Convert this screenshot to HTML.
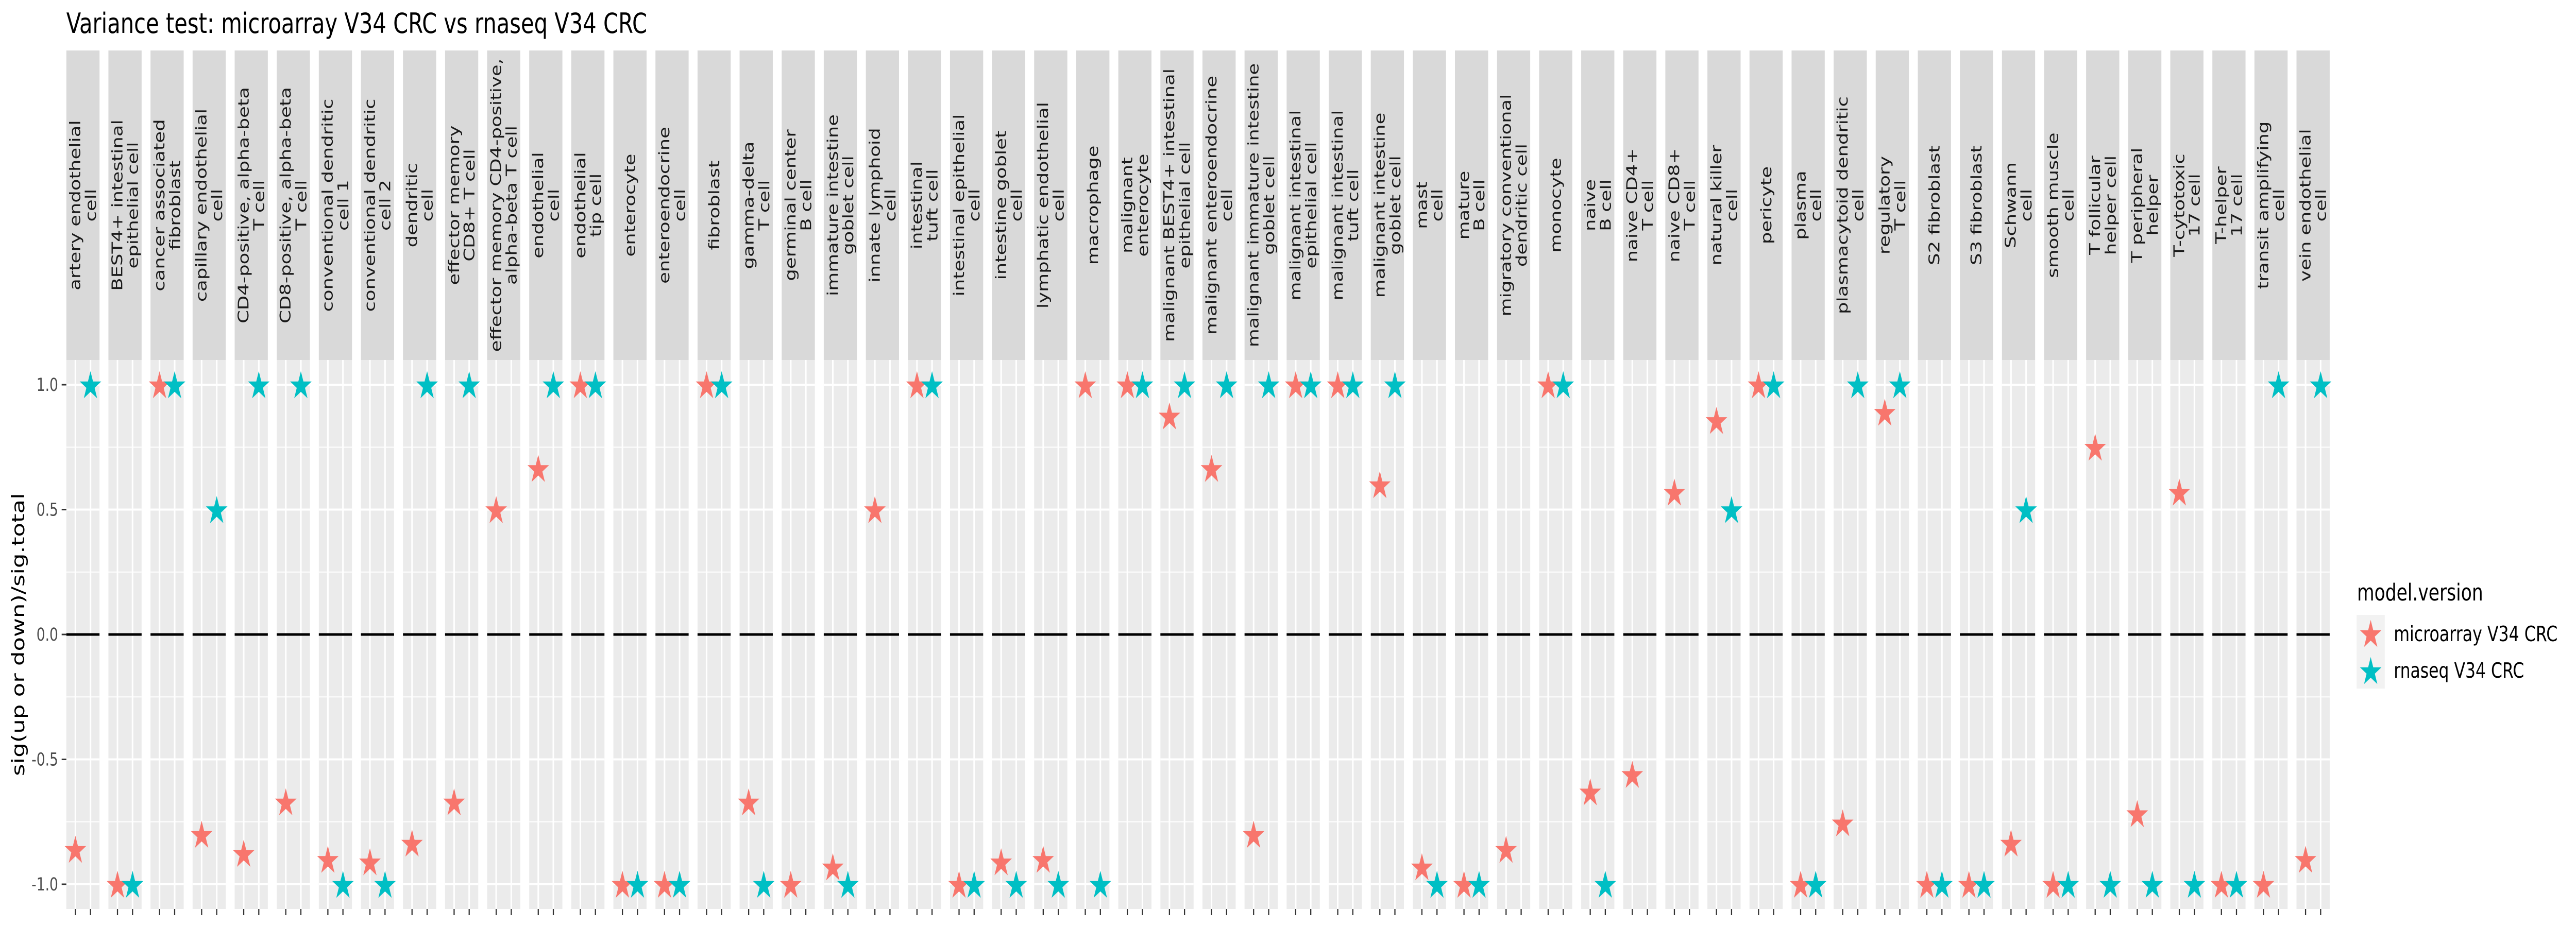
<!DOCTYPE html>
<html><head><meta charset="utf-8">
<style>
html,body{margin:0;padding:0;background:#fff;width:6600px;height:1800px;overflow:hidden;}
svg{display:block;position:absolute;left:0;top:0;width:100vw;height:100vh;font-family:"DejaVu Sans","Liberation Sans",sans-serif;}
</style></head>
<body>
<svg id="chart" viewBox="0 0 6600 1800" preserveAspectRatio="none" xmlns="http://www.w3.org/2000/svg">
<text x="170" y="64" font-size="54" fill="#000" textLength="1488" lengthAdjust="spacingAndGlyphs">Variance test: microarray V34 CRC vs rnaseq V34 CRC</text>
<text transform="translate(62,1232) rotate(-90)" text-anchor="middle" font-size="45" fill="#000">sig(up or down)/sig.total</text>
<g id="panels"></g>
<g id="yaxis"></g>
<g>
<text x="6039" y="1166" font-size="45" fill="#000" textLength="323" lengthAdjust="spacingAndGlyphs">model.version</text>
<rect x="6038" y="1194" width="72" height="143" fill="#F2F2F2"/>
<g id="legendkeys"></g>
<text x="6133" y="1245" font-size="41" fill="#000" textLength="420" lengthAdjust="spacingAndGlyphs">microarray V34 CRC</text>
<text x="6133" y="1316" font-size="41" fill="#000" textLength="334" lengthAdjust="spacingAndGlyphs">rnaseq V34 CRC</text>
</g>
</svg>
<script>
const categories = ["artery endothelial|cell","BEST4+ intestinal|epithelial cell","cancer associated|fibroblast","capillary endothelial|cell","CD4-positive, alpha-beta|T cell","CD8-positive, alpha-beta|T cell","conventional dendritic|cell 1","conventional dendritic|cell 2","dendritic|cell","effector memory|CD8+ T cell","effector memory CD4-positive,|alpha-beta T cell","endothelial|cell","endothelial|tip cell","enterocyte","enteroendocrine|cell","fibroblast","gamma-delta|T cell","germinal center|B cell","immature intestine|goblet cell","innate lymphoid|cell","intestinal|tuft cell","intestinal epithelial|cell","intestine goblet|cell","lymphatic endothelial|cell","macrophage","malignant|enterocyte","malignant BEST4+ intestinal|epithelial cell","malignant enteroendocrine|cell","malignant immature intestine|goblet cell","malignant intestinal|epithelial cell","malignant intestinal|tuft cell","malignant intestine|goblet cell","mast|cell","mature|B cell","migratory conventional|dendritic cell","monocyte","naive|B cell","naive CD4+|T cell","naive CD8+|T cell","natural killer|cell","pericyte","plasma|cell","plasmacytoid dendritic|cell","regulatory|T cell","S2 fibroblast","S3 fibroblast","Schwann|cell","smooth muscle|cell","T follicular|helper cell","T peripheral|helper","T-cytotoxic|17 cell","T-helper|17 cell","transit amplifying|cell","vein endothelial|cell"];
const microarray = [-0.86,-1,1,-0.80,-0.876,-0.67,-0.90,-0.91,-0.835,-0.67,0.5,0.665,1,-1,-1,1,-0.67,-1,-0.93,0.5,1,-1,-0.91,-0.90,1,1,0.875,0.665,-0.80,1,1,0.60,-0.93,-1,-0.86,1,-0.63,-0.56,0.57,0.857,1,-1,-0.754,0.89,-1,-1,-0.835,-1,0.75,-0.717,0.57,-1,-1,-0.90];
const rnaseq = [1,-1,1,0.5,1,1,-1,-1,1,1,null,1,1,-1,-1,1,-1,null,-1,null,1,-1,-1,-1,-1,1,1,1,1,1,1,1,-1,-1,null,1,-1,null,null,0.5,1,-1,1,1,-1,-1,0.5,-1,-1,-1,-1,-1,1,1];
const yTicks = [-1,-0.5,0,0.5,1];
const yTickLabels = ["-1.0","-0.5","0.0","0.5","1.0"];
const yMinor = [-0.75,-0.25,0.25,0.75];

const NS="http://www.w3.org/2000/svg";
const P0=170, PITCH=107.81, PW=85, PTOP=699, PBOT=1765, STOP=98;
const RED="#F8766D", TEAL="#00BFC4";
function yScale(v){return 1232 - v*485;}
function xScale(panel, series){return P0 + panel*PITCH + (series===0 ? 0.6 : 1.6)/2.2*PW;}
function mk(tag, attrs, parent){const e=document.createElementNS(NS,tag);for(const k in attrs)e.setAttribute(k,attrs[k]);parent.appendChild(e);return e;}
function starPts(cx,cy,R){const r=R*0.382;let p=[];for(let i=0;i<10;i++){const a=-Math.PI/2+i*Math.PI/5;const rr=i%2?r:R;p.push((cx+rr*Math.cos(a)).toFixed(2)+","+(cy+rr*Math.sin(a)).toFixed(2));}return p.join(" ");}
const R=29;
function star(parent, x, yv, color){const cy=yv+0.095*R;return mk("polygon",{points:starPts(x,cy,R),fill:color},parent);}

const panels=document.getElementById("panels");
const defs=mk("defs",{},document.getElementById("chart"));
categories.forEach((cat,i)=>{
  const x0=P0+i*PITCH;
  const g=mk("g",{},panels);
  
  
  const bg=mk("rect",{x:x0,y:PTOP,width:PW,height:PBOT-PTOP,fill:"#EBEBEB"},g);
  
  
  yMinor.forEach(v=>{const l=mk("line",{x1:x0,x2:x0+PW,y1:yScale(v),y2:yScale(v),stroke:"#fff","stroke-width":2},g);
    
    });
  yTicks.forEach(v=>{const l=mk("line",{x1:x0,x2:x0+PW,y1:yScale(v),y2:yScale(v),stroke:"#fff","stroke-width":4},g);
    
    });
  [0,1].forEach(s=>{const xx=xScale(i,s);const l=mk("line",{x1:xx,x2:xx,y1:PTOP,y2:PBOT,stroke:"#fff","stroke-width":4},g);
    
    
    const t=mk("line",{x1:xx,x2:xx,y1:PBOT,y2:PBOT+12,stroke:"#333","stroke-width":3},g);
    
    });
  const z=mk("line",{x1:x0,x2:x0+PW,y1:yScale(0),y2:yScale(0),stroke:"#000","stroke-width":5},g);
  
  
  const st=mk("rect",{x:x0,y:STOP,width:PW,height:PTOP-STOP,fill:"#D9D9D9"},g);
  
  
  const cp=mk("clipPath",{id:"clip"+i},defs);
  mk("rect",{x:x0,y:STOP,width:PW,height:PTOP-STOP},cp);
  const lines=cat.split("|");
  const cx=x0+PW/2, cy=(STOP+PTOP)/2, lh=40;
  const tg=mk("g",{"clip-path":"url(#clip"+i+")"},g);
  const txt=mk("text",{transform:"translate("+cx+","+cy+") rotate(-90)","text-anchor":"middle","font-size":37,fill:"#1A1A1A"},tg);
  
  
  lines.forEach((ln,k)=>{const off=(k-(lines.length-1)/2)*lh+13;const ts=mk("tspan",{x:0,y:off},txt);ts.textContent=ln;});
  if(microarray[i]!==null){const s=star(g,xScale(i,0),yScale(microarray[i]),RED);
    
    }
  if(rnaseq[i]!==null){const s=star(g,xScale(i,1),yScale(rnaseq[i]),TEAL);
    
    }
});
const ya=document.getElementById("yaxis");
yTicks.forEach((v,k)=>{
  const t=mk("line",{x1:158,x2:170,y1:yScale(v),y2:yScale(v),stroke:"#333","stroke-width":3},ya);
  
  
  const l=mk("text",{x:149,y:yScale(v)+12,"text-anchor":"end","font-size":35,fill:"#4D4D4D"},ya);
  
  
  l.textContent=yTickLabels[k];
});
const lk=document.getElementById("legendkeys");
const k1=star(lk,6074,1230,RED);


const k2=star(lk,6074,1302,TEAL);


</script>
</body></html>
